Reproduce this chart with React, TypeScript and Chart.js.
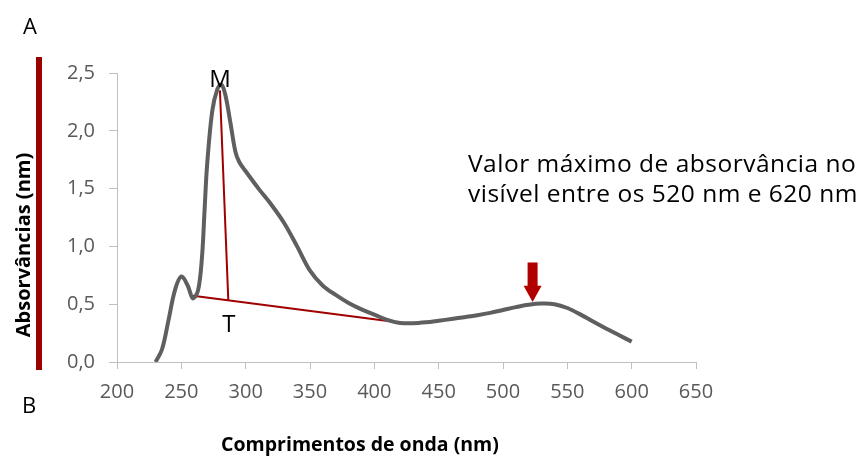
import React, { useEffect, useRef } from "react";
import { Chart, registerables } from "chart.js";

Chart.register(...registerables);

const wavelengths = [230, 235, 240, 245, 250, 255, 259, 263, 266, 268, 270, 274, 278, 281, 284, 288, 292, 295, 300, 310, 320, 330, 340, 350, 360, 370, 380, 390, 400, 410, 420, 430, 440, 450, 460, 470, 480, 490, 500, 510, 520, 530, 540, 550, 560, 570, 580, 590, 600];
const absorbances = [0.0, 0.11, 0.36, 0.62, 0.74, 0.66, 0.55, 0.62, 0.9, 1.3, 1.7, 2.17, 2.36, 2.4, 2.32, 2.08, 1.82, 1.73, 1.65, 1.5, 1.36, 1.2, 1.0, 0.79, 0.66, 0.58, 0.51, 0.455, 0.41, 0.365, 0.338, 0.335, 0.343, 0.357, 0.372, 0.388, 0.405, 0.425, 0.45, 0.475, 0.495, 0.505, 0.5, 0.467, 0.412, 0.35, 0.29, 0.233, 0.176];

const baselineX = [259, 415];
const baselineY = [0.573, 0.349];
const heightX = [280, 286.5];
const heightY = [2.35, 0.536];

const arrowX = 523;
const arrowTop = 0.86;
const arrowHeadStart = 0.66;
const arrowTip = 0.52;

const xTicks = { min: 200, max: 650, step: 50 };
const yTicks = { min: 0, max: 2.5, step: 0.5 };

const xTitle = "Comprimentos de onda (nm)";
const yTitle = "Absorvâncias (nm)";
const noteLines = ["Valor máximo de absorvância no", "visível entre os 520 nm e 620 nm"];
const noteX = 472.8;
const noteY = [1.64, 1.38];
const mLabel = { text: "M", x: 280, y: 2.38 };
const tLabel = { text: "T", x: 287, y: 0.26 };

const RED = "#a00000";

const overlayPlugin = {
  id: "overlay",
  afterDraw(chart: any) {
    const ctx = chart.ctx;
    const xs = chart.scales.x;
    const ys = chart.scales.y;
    ctx.save();
    // left red bar
    ctx.fillStyle = "#9b0000";
    ctx.fillRect(36, 57, 6, 313);

    // arrow
    const ax = xs.getPixelForValue(arrowX);
    const aTop = ys.getPixelForValue(arrowTop);
    const aHead = ys.getPixelForValue(arrowHeadStart);
    const aTip = ys.getPixelForValue(arrowTip);
    ctx.fillStyle = "#b00000";
    ctx.beginPath();
    ctx.moveTo(ax - 5, aTop);
    ctx.lineTo(ax + 5, aTop);
    ctx.lineTo(ax + 5, aHead);
    ctx.lineTo(ax + 9, aHead);
    ctx.lineTo(ax, aTip);
    ctx.lineTo(ax - 9, aHead);
    ctx.lineTo(ax - 5, aHead);
    ctx.closePath();
    ctx.fill();

    ctx.fillStyle = "#000";
    ctx.textAlign = "center";
    ctx.textBaseline = "middle";
    ctx.font = "22px 'Open Sans'";
    ctx.fillText("A", 30, 28);
    ctx.fillText("B", 29, 407);

    ctx.textBaseline = "alphabetic";
    ctx.font = "24px 'Open Sans'";
    ctx.fillText(mLabel.text, xs.getPixelForValue(mLabel.x), ys.getPixelForValue(mLabel.y));
    ctx.fillText(tLabel.text, xs.getPixelForValue(tLabel.x), ys.getPixelForValue(tLabel.y));

    ctx.textAlign = "left";
    ctx.font = "24.5px 'Open Sans'";
    (ctx as any).letterSpacing = "0.5px";
    noteLines.forEach((line, i) => {
      ctx.fillText(line, xs.getPixelForValue(noteX), ys.getPixelForValue(noteY[i]));
    });
    (ctx as any).letterSpacing = "0px";

    ctx.font = "bold 19.5px 'Open Sans'";
    ctx.textAlign = "center";
    ctx.textBaseline = "middle";
    ctx.fillText(xTitle, 360, 445);
    ctx.font = "bold 20px 'Open Sans'";
    ctx.translate(24, 245);
    ctx.rotate(-Math.PI / 2);
    ctx.fillText(yTitle, 0, 0);
    ctx.restore();
  },
};

export default function App() {
  const ref = useRef<HTMLCanvasElement | null>(null);
  useEffect(() => {
    document.body.style.margin = "0";
    const canvas = ref.current;
    if (!canvas) return;
    const chart = new Chart(canvas, {
      type: "line",
      data: {
        datasets: [
          {
            data: wavelengths.map((x, i) => ({ x, y: absorbances[i] })),
            borderColor: "#5f5f5f",
            borderWidth: 4,
            pointRadius: 0,
            tension: 0.35,
            fill: false,
          },
          {
            data: baselineX.map((x, i) => ({ x, y: baselineY[i] })),
            borderColor: RED,
            borderWidth: 2,
            pointRadius: 0,
            tension: 0,
          },
          {
            data: heightX.map((x, i) => ({ x, y: heightY[i] })),
            borderColor: RED,
            borderWidth: 2,
            pointRadius: 0,
            tension: 0,
          },
        ],
      },
      options: {
        responsive: false,
        animation: false,
        devicePixelRatio: 1,
        layout: { padding: { top: 73, right: 171, left: 0, bottom: 0 } },
        plugins: { legend: { display: false }, tooltip: { enabled: false } },
        scales: {
          x: {
            type: "linear",
            min: xTicks.min,
            max: xTicks.max,
            afterFit: (s: any) => {
              s.height = 96;
            },
            ticks: {
              stepSize: xTicks.step,
              padding: 11,
              color: "#595959",
              font: { family: "'Open Sans'", size: 20 },
            },
            grid: { drawOnChartArea: false, drawTicks: true, tickLength: 7, color: "#bfbfbf" },
            border: { color: "#bfbfbf", width: 1 },
          },
          y: {
            min: yTicks.min,
            max: yTicks.max,
            afterFit: (s: any) => {
              s.width = 117;
            },
            ticks: {
              stepSize: yTicks.step,
              padding: 14,
              color: "#595959",
              font: { family: "'Open Sans'", size: 20 },
              callback: (v: any) => Number(v).toFixed(1).replace(".", ","),
            },
            grid: { drawOnChartArea: false, drawTicks: true, tickLength: 8, color: "#bfbfbf" },
            border: { color: "#bfbfbf", width: 1 },
          },
        },
      },
      plugins: [overlayPlugin],
    } as any);
    return () => chart.destroy();
  }, []);
  return (
    <div style={{ width: 867, height: 458, background: "#fff" }}>
      <canvas ref={ref} width={867} height={458} style={{ display: "block" }} />
    </div>
  );
}
